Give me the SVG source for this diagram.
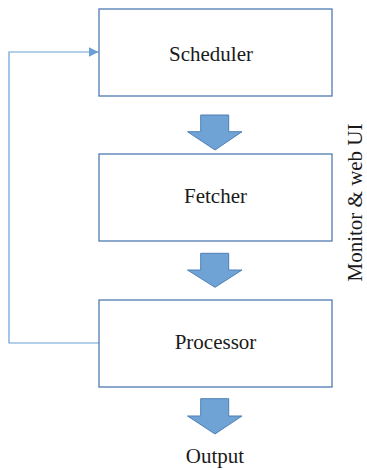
<svg xmlns="http://www.w3.org/2000/svg" width="367" height="470" viewBox="0 0 367 470">
<style>
.box{fill:#fff;stroke:#4f7bb3;stroke-width:1.3}
.lbl{font-family:"Liberation Serif",serif;font-size:21px;fill:#1a1a1a;text-anchor:middle}
.blk{fill:#6fa3d6;stroke:#4f7fb6;stroke-width:1}
.ln{fill:none;stroke:#6b9fd6;stroke-width:1.2}
</style>
<defs>
<marker id="ah" viewBox="0 0 10 10" refX="10" refY="5" markerWidth="10" markerHeight="10" markerUnits="userSpaceOnUse" orient="auto">
<path d="M0,0 L10,5 L0,10 Z" fill="#6b9fd6"/>
</marker>
</defs>
<g id="connectors">
<path class="ln" d="M99,343 H9 V52 H98.5" marker-end="url(#ah)"/>
<path class="blk" d="M200.7,115 H228.7 V131.7 H242 L215,150 L187.5,131.7 H200.7 Z"/>
<path class="blk" d="M200.7,253.3 H228.7 V270 H242 L215,287.3 L187.5,270 H200.7 Z"/>
<path class="blk" d="M200.7,398.7 H228.7 V416 H242 L215,434 L187.5,416 H200.7 Z"/>
</g>
<g id="scheduler">
<rect class="box" x="99" y="9" width="233" height="87"/>
<text class="lbl" x="211" y="61">Scheduler</text>
</g>
<g id="fetcher">
<rect class="box" x="99" y="154" width="233" height="87"/>
<text class="lbl" x="215.5" y="203">Fetcher</text>
</g>
<g id="processor">
<rect class="box" x="99" y="300" width="233" height="87"/>
<text class="lbl" x="215.5" y="349">Processor</text>
</g>
<g id="output">
<text class="lbl" x="215" y="463">Output</text>
</g>
<g id="monitor">
<text class="lbl" transform="translate(361.5,202.5) rotate(-90)">Monitor &amp; web UI</text>
</g>
</svg>
